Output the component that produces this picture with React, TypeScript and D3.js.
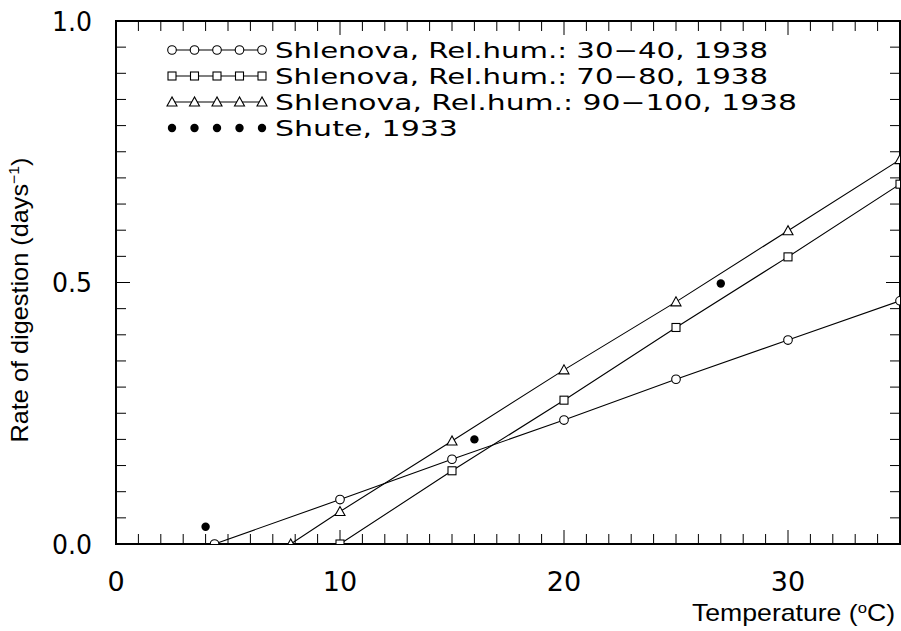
import React from "react";
import * as d3 from "d3";

const tempCircle = [4.4, 10, 15, 20, 25, 30, 35];
const rateCircle = [0, 0.085, 0.162, 0.237, 0.315, 0.39, 0.465];
const tempSquare = [10, 15, 20, 25, 30, 35];
const rateSquare = [0, 0.14, 0.275, 0.414, 0.549, 0.688];
const tempTriangle = [7.8, 10, 15, 20, 25, 30, 35];
const rateTriangle = [0, 0.062, 0.197, 0.333, 0.463, 0.599, 0.735];
const tempShute = [4, 16, 27];
const rateShute = [0.033, 0.2, 0.498];

const legendLabels = [
  "Shlenova, Rel.hum.: 30\u221240, 1938",
  "Shlenova, Rel.hum.: 70\u221280, 1938",
  "Shlenova, Rel.hum.: 90\u2212100, 1938",
  "Shute, 1933",
];
const legendWidths = [493, 493, 522, 183];
const xTickLabels = [0, 10, 20, 30];
const yTickLabels = ["0.0", "0.5", "1.0"];
const yTickValues = [0, 0.5, 1.0];

const W = 901;
const H = 631;
const L = 116, R = 900, T = 21, B = 544;
const HFONT = "'DejaVu Sans', sans-serif";
const AFONT = "'Liberation Sans', Arial, sans-serif";

function Marker({ type, x, y }: { type: string; x: number; y: number }) {
  if (type === "circle") return <circle cx={x} cy={y} r={4.3} fill="white" stroke="black" strokeWidth={1.1} />;
  if (type === "square") return <rect x={x - 4} y={y - 4} width={8} height={8} fill="white" stroke="black" strokeWidth={1.1} />;
  if (type === "triangle") {
    const p = `${x},${y - 5} ${x - 5},${y + 4} ${x + 5},${y + 4}`;
    return <polygon points={p} fill="white" stroke="black" strokeWidth={1.1} />;
  }
  return <circle cx={x} cy={y} r={4.2} fill="black" />;
}

export default function App() {
  const x = d3.scaleLinear().domain([0, 35]).range([L, R]);
  const y = d3.scaleLinear().domain([0, 1]).range([B, T]);
  const line = d3.line<[number, number]>().x((d) => x(d[0])).y((d) => y(d[1]));

  const series = [
    { type: "circle", t: tempCircle, r: rateCircle, line: true },
    { type: "square", t: tempSquare, r: rateSquare, line: true },
    { type: "triangle", t: tempTriangle, r: rateTriangle, line: true },
    { type: "dot", t: tempShute, r: rateShute, line: false },
  ];

  const xTicks = d3.range(0, 36, 1);
  const yTicks = d3.range(0, 1.0001, 0.05);

  const legendTop = 50;
  const legendStep = 26;

  return (
    <svg width={W} height={H} style={{ position: "absolute", left: 0, top: 0, background: "white" }}>
      <defs>
        <clipPath id="plotclip">
          <rect x={L} y={T} width={R - L} height={B - T} />
        </clipPath>
      </defs>
      <g stroke="black" strokeWidth={1}>
        {xTicks.map((v) => {
          const len = v % 10 === 0 ? 14 : 10;
          return (
            <g key={"xt" + v}>
              <line x1={x(v)} x2={x(v)} y1={B} y2={B - len} />
              <line x1={x(v)} x2={x(v)} y1={T} y2={T + len} />
            </g>
          );
        })}
        {yTicks.map((v, i) => {
          const len = i % 10 === 0 ? 14 : 10;
          return (
            <g key={"yt" + i}>
              <line x1={L} x2={L + len} y1={y(v)} y2={y(v)} />
              <line x1={R} x2={R - len} y1={y(v)} y2={y(v)} />
            </g>
          );
        })}
      </g>
      <rect x={L} y={T} width={R - L} height={B - T} fill="none" stroke="black" strokeWidth={2} />
      <g clipPath="url(#plotclip)">
        {series.map((s, si) => (
          <g key={"s" + si}>
            {s.line && (
              <path d={line(s.t.map((t, i) => [t, s.r[i]] as [number, number])) || ""} fill="none" stroke="black" strokeWidth={1.1} />
            )}
            {s.t.map((t, i) => (
              <Marker key={i} type={s.type} x={x(t)} y={y(s.r[i])} />
            ))}
          </g>
        ))}
      </g>
      {yTickValues.map((v, i) => (
        <text key={"yl" + i} x={92} y={y(v)} dy="0.36em" textAnchor="end" fontFamily={HFONT} fontSize={27} textLength={40} lengthAdjust="spacingAndGlyphs">
          {yTickLabels[i]}
        </text>
      ))}
      {xTickLabels.map((v) => (
        <text key={"xl" + v} x={x(v)} y={591} textAnchor="middle" fontFamily={HFONT} fontSize={27}>
          {v}
        </text>
      ))}
      {series.map((s, i) => {
        const ly = legendTop + i * legendStep;
        const mx = d3.range(5).map((k) => 172 + k * 22.5);
        return (
          <g key={"lg" + i}>
            {s.line && <line x1={172} x2={262} y1={ly} y2={ly} stroke="black" strokeWidth={1.1} />}
            {mx.map((px, k) => (
              <Marker key={k} type={s.type} x={px} y={ly} />
            ))}
            <text x={275} y={ly} dy="0.36em" fontFamily={HFONT} fontSize={22} textLength={legendWidths[i]} lengthAdjust="spacingAndGlyphs">
              {legendLabels[i]}
            </text>
          </g>
        );
      })}
      <text transform={`translate(28,300) rotate(-90)`} textAnchor="middle" fontFamily={AFONT} fontSize={24} textLength={285} lengthAdjust="spacingAndGlyphs">
        Rate of digestion (days<tspan dy={-9} fontSize={15}>{"\u22121"}</tspan><tspan dy={9}>)</tspan>
      </text>
      <text x={895} y={621} textAnchor="end" fontFamily={AFONT} fontSize={24} textLength={203} lengthAdjust="spacingAndGlyphs">
        Temperature (<tspan dy={-8} fontSize={15}>o</tspan><tspan dy={8}>C)</tspan>
      </text>
    </svg>
  );
}
